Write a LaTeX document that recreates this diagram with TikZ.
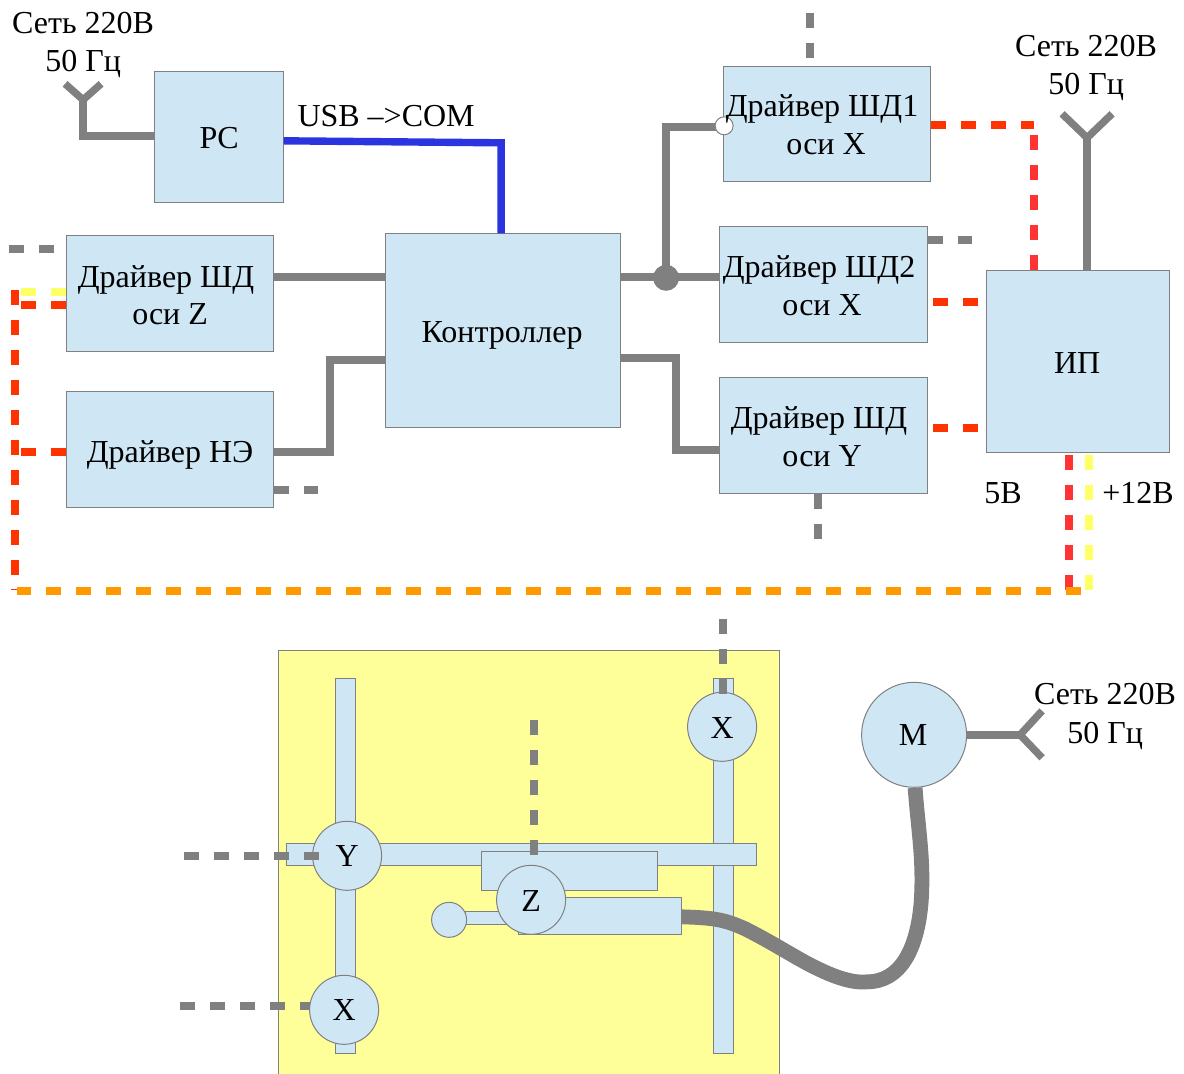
\documentclass[tikz,border=0pt]{standalone}
\usepackage{fontspec}
\setmainfont{Liberation Serif}
\definecolor{boxfill}{HTML}{CFE7F5}
\definecolor{edgegray}{HTML}{808080}
\definecolor{plate}{HTML}{FFFF99}
\definecolor{wirered}{HTML}{FF3300}
\definecolor{wirepink}{HTML}{FF3333}
\definecolor{wireyellow}{HTML}{FFFF66}
\definecolor{wireorange}{HTML}{FF9900}
\definecolor{wireblue}{HTML}{2A35E0}
\tikzset{
  block/.style={draw=edgegray,fill=boxfill,line width=0.5pt,inner sep=0pt,minimum width=#1},
  disc/.style={circle,draw=edgegray,fill=boxfill,line width=0.5pt,inner sep=0pt,minimum size=#1},
  lbl/.style={anchor=base,inner sep=0pt,yshift=-0.25pt,font=\fontsize{16pt}{18pt}\selectfont},
  wire/.style={draw=edgegray,line width=3.7pt},
  dashwire/.style={line width=4pt,dash pattern=on 7.5pt off 7.5pt},
  graydash/.style={dashwire,draw=edgegray},
  reddash/.style={dashwire,draw=wirered},
  pinkdash/.style={dashwire,draw=wirepink},
  yellowdash/.style={dashwire,draw=wireyellow},
  orangedash/.style={dashwire,draw=wireorange},
  busblue/.style={draw=wireblue,line width=3.7pt},
  hose/.style={draw=edgegray,line width=7.4pt}
}
\begin{document}
\begin{tikzpicture}[x=0.5pt,y=-0.5pt]
\useasboundingbox (-0.1,0.2) rectangle (1183.9,1073.2);
% ---- free-end coordinates
\coordinate (a1v) at (83,100); \coordinate (a1l) at (65,84); \coordinate (a1r) at (101,84);
\coordinate (a2v) at (1087,138); \coordinate (a2l) at (1062,114); \coordinate (a2r) at (1112,114);
\coordinate (a3v) at (1020,735); \coordinate (a3l) at (1042,711); \coordinate (a3r) at (1042,758);
\coordinate (j1) at (666,278);
% ---- blocks
\node[block=129*0.5pt,minimum height=131*0.5pt] (pc) at (218.5,137.5) {};
\node[block=235*0.5pt,minimum height=194*0.5pt] (ctrl) at (502.5,331) {};
\node[block=207*0.5pt,minimum height=115*0.5pt] (d1) at (826.5,124.5) {};
\node[block=208*0.5pt,minimum height=116*0.5pt] (d2) at (823,285) {};
\node[block=208*0.5pt,minimum height=116*0.5pt] (dy) at (823,436) {};
\node[block=207*0.5pt,minimum height=116*0.5pt] (dz) at (169.5,294) {};
\node[block=207*0.5pt,minimum height=116*0.5pt] (dh) at (169.5,450) {};
\node[block=183*0.5pt,minimum height=182*0.5pt] (ip) at (1077.5,362) {};
% ---- solid wires
\draw[wire] (pc.west |- 0,136) -- (83,136) -- (a1v);
\draw[wire] (a1l) -- (a1v) -- (a1r);
\draw[busblue] (pc.east |- 0,141) -- (501,143) -- (ctrl.north -| 501,0);
\draw[wire] (ctrl.east |- 0,277) -- (d2.west |- 0,277);
\draw[wire] (j1) -- (666,127) -- (d1.west |- 0,127);
\draw[wire] (ctrl.east |- 0,358) -- (676,358) -- (676,450) -- (dy.west |- 0,450);
\draw[wire] (dz.east |- 0,277) -- (ctrl.west |- 0,277);
\draw[wire] (dh.east |- 0,452) -- (330,452) -- (330,360) -- (ctrl.west |- 0,360);
\draw[wire] (ip.north -| 1087,0) -- (a2v);
\draw[wire] (a2l) -- (a2v) -- (a2r);
\node[circle,fill=edgegray,inner sep=0pt,minimum size=13pt] (jdot) at (j1) {};
\node[circle,draw=edgegray,fill=white,line width=0.5pt,inner sep=0pt,minimum size=9pt] (jopen) at (724,126) {};
% ---- dashed wires, upper part
\coordinate (g1) at (810,13); \coordinate (g2) at (54,249); \coordinate (g3) at (972,240);
\coordinate (g4) at (318,490); \coordinate (g5) at (818,539);
\draw[graydash] (g1) -- (810,58);
\draw[graydash] (g2) -- (9,249);
\draw[graydash] (d2.east |- 0,240) -- (g3);
\draw[graydash] (dh.east |- 0,490) -- (g4);
\draw[graydash] (dy.south -| 818,0) -- (g5);
\draw[reddash] (d1.east |- 0,125) -- (1034,125);
\draw[pinkdash] (ip.north -| 1034,0) -- (1034,135);
\draw[reddash] (933,302) -- (978,302);
\draw[reddash] (933,428) -- (978,428);
\draw[yellowdash] (dz.west |- 0,292) -- (21,292);
\draw[reddash] (dz.west |- 0,305) -- (21,305);
\draw[reddash] (dh.west |- 0,452) -- (21,452);
\draw[reddash] (15,290) -- (15,576);
\draw[draw=wirered,line width=0.5pt] (11,590) -- (19,590);
\draw[pinkdash] (1069,455) -- (1069,591);
\draw[yellowdash] (1089,455) -- (1089,591);
\draw[orangedash] (1081,591) -- (17,591);
% ---- machine
\fill[plate] (278,651) rectangle (779,1074);
\draw[edgegray,line width=0.5pt] (278,1074) -- (278,651) -- (779,651) -- (779,1074);
\node[block=20*0.5pt,minimum height=375*0.5pt] (railL) at (345,866.5) {};
\node[block=20*0.5pt,minimum height=375*0.5pt] (railR) at (723,866.5) {};
\node[block=470*0.5pt,minimum height=22*0.5pt] (beam) at (521,855) {};
\node[block=176*0.5pt,minimum height=39*0.5pt] (carr) at (569,871.5) {};
\node[block=55*0.5pt,minimum height=13*0.5pt] (rod) at (492.5,918.5) {};
\node[block=163*0.5pt,minimum height=37*0.5pt] (arm) at (599.5,916.5) {};
\node[disc=17.5pt] (tool) at (449,920) {};
\node[disc=34.5pt] (cZ) at (531,900) {};
\node[disc=34.5pt] (cY) at (347,856) {};
\node[disc=34.5pt] (cXb) at (344,1010) {};
\node[disc=34.5pt] (cXt) at (722,727) {};
\node[disc=52.5pt] (mot) at (914,735) {};
\draw[graydash] (723,619) -- (723,694);
\draw[graydash] (534,720) -- (534,855);
\draw[graydash] (184,856) -- (320,856);
\draw[graydash] (180,1006) -- (310,1006);
\draw[hose] (arm.east |- 0,917) .. controls (715,918) and (725,920) .. (745,929)
   .. controls (775,944) and (800,961) .. (820,970)
   .. controls (845,982) and (860,983) .. (867,982)
   .. controls (900,982) and (917,950) .. (921,903)
   .. controls (924,860) and (918,830) .. (mot.south -| 915,0);
\draw[wire] (mot.east) -- (a3v);
\draw[wire] (a3l) -- (a3v) -- (a3r);
% ---- texts
\node[lbl] (t1) at (83,33) {Сеть 220В};
\node[lbl] (t2) at (83,71) {50 Гц};
\node[lbl] (t3) at (1086,56) {Сеть 220В};
\node[lbl] (t4) at (1086,94) {50 Гц};
\node[lbl] (t5) at (1105,704) {Сеть 220В};
\node[lbl] (t6) at (1105,743) {50 Гц};
\node[lbl] (tu) at (386,126) {USB –>COM};
\node[lbl] (tp) at (219,148) {PC};
\node[lbl] (tc) at (502,342) {Контроллер};
\node[lbl] (ti) at (1077,373) {ИП};
\node[lbl] (t11) at (822,116) {Драйвер ШД1};
\node[lbl] (t12) at (826,154) {оси X};
\node[lbl] (t21) at (819,277) {Драйвер ШД2};
\node[lbl] (t22) at (822,315) {оси X};
\node[lbl] (ty1) at (819,428) {Драйвер ШД};
\node[lbl] (ty2) at (822,466) {оси Y};
\node[lbl] (tz1) at (166,287) {Драйвер ШД};
\node[lbl] (tz2) at (170,324) {оси Z};
\node[lbl] (th) at (170,462) {Драйвер НЭ};
\node[lbl] (v5) at (1003,503) {5В};
\node[lbl] (v12) at (1138,503) {+12В};
\node[lbl] (lY) at (347,866) {Y};
\node[lbl] (lXb) at (344,1020) {X};
\node[lbl] (lXt) at (722,738) {X};
\node[lbl] (lZ) at (531,911) {Z};
\node[lbl] (lM) at (913,745) {M};
\end{tikzpicture}
\end{document}
